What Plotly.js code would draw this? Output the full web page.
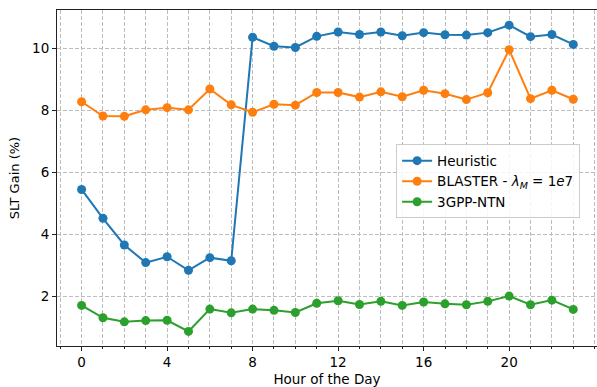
<!DOCTYPE html>
<html>
<head>
<meta charset="utf-8">
<script src="https://cdn.plot.ly/plotly-3.0.1.min.js"></script>
<style>html,body{margin:0;padding:0;background:#fff;}#chart{width:597px;height:387px;}</style>
</head>
<body>
<div id="chart"></div>
<script>
const hours = [0,1,2,3,4,5,6,7,8,9,10,11,12,13,14,15,16,17,18,19,20,21,22,23];
const heuristic = [5.46,4.53,3.67,3.10,3.29,2.85,3.26,3.16,10.37,10.08,10.04,10.40,10.54,10.46,10.54,10.42,10.52,10.45,10.44,10.52,10.76,10.39,10.46,10.14];
const blaster = [8.29,7.83,7.82,8.03,8.10,8.03,8.70,8.19,7.95,8.21,8.18,8.59,8.59,8.44,8.61,8.45,8.66,8.55,8.36,8.58,9.97,8.39,8.66,8.37];
const ntn = [1.72,1.32,1.19,1.23,1.24,0.88,1.60,1.48,1.60,1.56,1.49,1.79,1.87,1.75,1.85,1.72,1.83,1.77,1.74,1.85,2.02,1.74,1.89,1.59];
const seriesNames = ['Heuristic', 'BLASTER - <i>λ</i><sub><i>M</i></sub> = 1<i>e</i>7', '3GPP-NTN'];
const colors = ['#1f77b4', '#ff7f0e', '#2ca02c'];
const xTicks = [0,4,8,12,16,20];
const yTicks = [2,4,6,8,10];

const allSeries = [heuristic, blaster, ntn];
const traces = allSeries.map((ys, i) => ({
  x: hours, y: ys, name: seriesNames[i], type: 'scatter', mode: 'lines+markers',
  line: {color: colors[i], width: 2},
  marker: {color: colors[i], size: 9}
}));

const gridc = '#bdbdbd';
const gdash = '4px,2px';
const layout = {
  width: 597, height: 387,
  margin: {l: 57, r: 0, t: 9.5, b: 41},
  paper_bgcolor: '#fff', plot_bgcolor: '#fff',
  font: {family: 'DejaVu Sans', size: 13, color: '#000'},
  showlegend: true,
  legend: {
    x: 0.628, y: 0.6, xanchor: 'left', yanchor: 'top',
    bgcolor: 'rgba(255,255,255,0.85)', bordercolor: '#cccccc', borderwidth: 1,
    font: {family: 'DejaVu Sans', size: 13.5}
  },
  xaxis: {
    range: [-1.15, 24.11], tickvals: xTicks, ticktext: xTicks.map(String),
    tickfont: {size: 13.5},
    showline: true, linecolor: '#222', linewidth: 1, mirror: true,
    ticks: 'outside', ticklen: 4, tickcolor: '#222',
    showgrid: true, gridcolor: gridc, griddash: gdash, gridwidth: 1,
    zeroline: false,
    minor: {dtick: 1, tick0: 0, showgrid: true, gridcolor: gridc, griddash: gdash, ticks: 'outside', ticklen: 2, tickcolor: '#222'},
    title: {text: 'Hour of the Day', font: {size: 13.5}, standoff: 9}
  },
  yaxis: {
    range: [0.41, 11.25], tickvals: yTicks, ticktext: yTicks.map(String),
    tickfont: {size: 13.5},
    showline: true, linecolor: '#222', linewidth: 1, mirror: false,
    ticks: 'outside', ticklen: 4, tickcolor: '#222',
    showgrid: true, gridcolor: gridc, griddash: gdash, gridwidth: 1,
    zeroline: false,
    title: {text: 'SLT Gain (%)', font: {size: 13}, standoff: 9}
  }
};
Plotly.newPlot('chart', traces, layout, {displayModeBar: false, staticPlot: true});
</script>
</body>
</html>
